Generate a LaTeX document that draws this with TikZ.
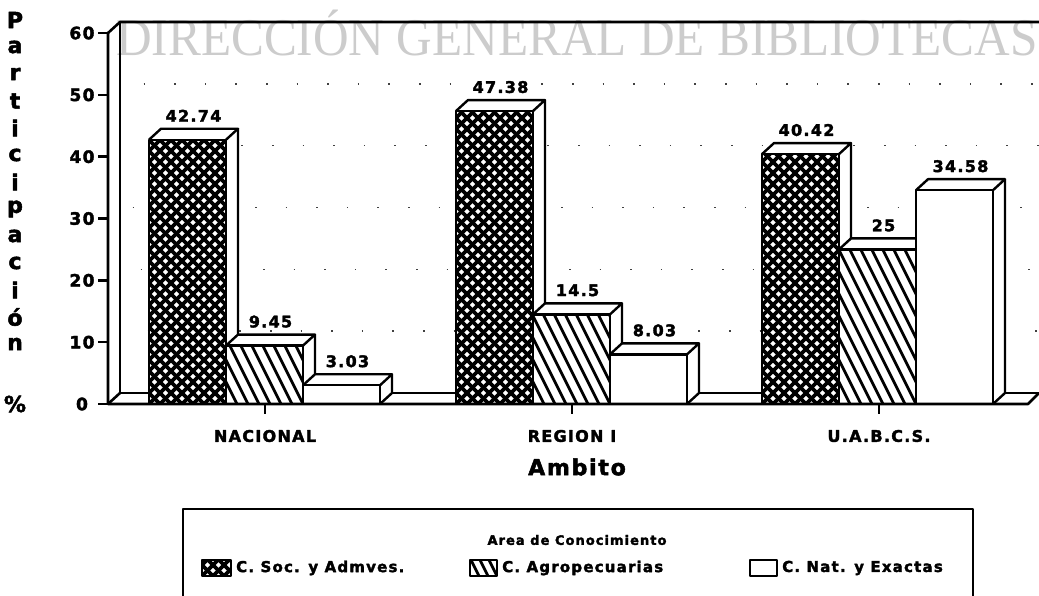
\documentclass[tikz,border=0pt]{standalone}
\usepackage{fontspec}
\setmainfont{DejaVu Sans}[LetterSpace=8,BoldFeatures={FakeBold=2.2}]
\newfontfamily\wmfont{Liberation Serif}
\newcommand\myfs[1]{\fontsize{#1}{#1}\selectfont}
\newcommand\crossfill[4]{%
  \begin{scope}
    \clip (#1,#2) rectangle (#3,#4);
    \foreach \k in {-34,...,40}{
      \draw[line width=3.6pt] (#1+\k*11,#4) -- ++(330,-330);
      \draw[line width=3.6pt] (#1+\k*11,#4) -- ++(-330,-330);
    }
  \end{scope}}
\newcommand\hatchfill[5]{%
  \begin{scope}
    \clip (#1,#2) rectangle (#3,#4);
    \foreach \k in {-2,...,26}{
      \draw[line width=2.8pt] (#1+\k*#5,#4) -- ++(-165,-330);
    }
  \end{scope}}
\newcommand\mybar[5]{%
  \pgfmathsetmacro\yt{404-6.183*#2}%
  \pgfmathsetmacro\xr{#1+77}%
  \fill[white] (#1,\yt) -- (#1+12,\yt-11) -- (\xr+12,\yt-11) -- (\xr+12,393) -- (\xr,404) -- (#1,404) -- cycle;
  \ifcase#3\or\crossfill{#1}{\yt}{\xr}{404}\or\hatchfill{#1}{\yt}{\xr}{404}{11}\or\fi
  \draw[barline] (#1,404) -- (#1,\yt) -- (\xr,\yt) -- (\xr,404);
  \draw[barline] (#1,\yt) -- (#1+12,\yt-11) -- (\xr+12,\yt-11) -- (\xr,\yt);
  \draw[barline] (\xr+12,\yt-11) -- (\xr+12,393) -- (\xr,404);
  \node[val] (#5) at (#1+44.5,\yt-24) {#4};
}
\begin{document}
\begin{tikzpicture}[x=1pt,y=-1pt,line join=round,
  barline/.style={line width=2.4pt},
  frameline/.style={line width=2.6pt},
  gridline/.style={line width=1.6pt,dash pattern=on 1.6pt off 29pt,black!75},
  val/.style={font=\bfseries\myfs{16},inner sep=0pt},
  ticklab/.style={font=\bfseries\myfs{17},inner sep=0pt},
  ylet/.style={font=\bfseries\myfs{22},inner sep=0pt},
  catlab/.style={font=\bfseries\myfs{16},inner sep=0pt},
  leglab/.style={font=\bfseries\myfs{15},inner sep=0pt,anchor=west},
  wm/.style={font=\wmfont\myfs{53},text=black!20,inner sep=0pt,anchor=base west}]
\useasboundingbox (0,0) rectangle (1039,595);
\fill[white] (0,0) rectangle (1039,595);
% watermark
\node[wm] (wmark) at (116,55) {\scalebox{0.93}[1]{DIRECCI\'ON GENERAL DE BIBLIOTECAS}};
% grid dots on back wall
\foreach \v/\ph in {10/5,20/12,30/20,40/3,50/9}{
  \pgfmathsetmacro\yg{404-6.183*\v-11}
  \draw[gridline,dash phase=\ph pt] (122,\yg) -- (1039,\yg);
}
% back frame
\draw[frameline] (108,33) -- (120,22) -- (1039,22);
\draw[frameline] (120,22) -- (120,393) -- (1039,393);
% bars
\mybar{149}{42.74}{1}{42.74}{v11}
\mybar{226}{9.45}{2}{9.45}{v12}
\mybar{303}{3.03}{3}{3.03}{v13}
\mybar{456}{47.38}{1}{47.38}{v21}
\mybar{533}{14.5}{2}{14.5}{v22}
\mybar{610}{8.03}{3}{8.03}{v23}
\mybar{762}{40.42}{1}{40.42}{v31}
\mybar{839}{25}{2}{25}{v32}
\mybar{916}{34.58}{3}{34.58}{v33}
% front axis and floor
\draw[frameline] (108,33) -- (108,404) -- (1028,404) -- (1039,393);
\draw[frameline] (108,404) -- (120,393);
\foreach \v in {0,10,...,60}{
  \pgfmathsetmacro\yy{404-6.183*\v}
  \draw[frameline] (98,\yy) -- (108,\yy);
  \node[ticklab] (t\v) at (82,\yy) {\v};
}
\foreach \cx in {265,572,879}{
  \draw[frameline] (\cx,404) -- (\cx,414);
}
\node[catlab] (c1) at (265,436) {NACIONAL};
\node[catlab] (c2) at (572,436) {REGION I};
\node[catlab] (c3) at (879,436) {U.A.B.C.S.};
\node[font=\bfseries\myfs{22},inner sep=0pt] (amb) at (577,467) {Ambito};
% y axis label
\foreach \l [count=\i from 0] in {P,a,r,t,i,c,i,p,a,c,i,ó,n}{
  \node[ylet] (y\i) at (15,20+27*\i) {\l};
}
\node[ylet] (ypct) at (15,404) {\%};
% legend
\draw[line width=2pt] (183,600) -- (183,509) -- (973,509) -- (973,600);
\node[font=\bfseries\myfs{13},inner sep=0pt] (legt) at (577,540) {Area de Conocimiento};
\fill[white] (202,560) rectangle (231,576);
\crossfill{202}{560}{231}{576}
\draw[line width=1.6pt] (202,560) rectangle (231,576);
\node[leglab] (l1) at (236,568) {C. Soc. y Admves.};
\hatchfill{470}{560}{497}{576}{9}
\draw[line width=1.6pt] (470,560) rectangle (497,576);
\node[leglab] (l2) at (502,568) {C. Agropecuarias};
\draw[line width=1.6pt] (750,560) rectangle (777,576);
\node[leglab] (l3) at (782,568) {C. Nat. y Exactas};
\end{tikzpicture}
\end{document}
